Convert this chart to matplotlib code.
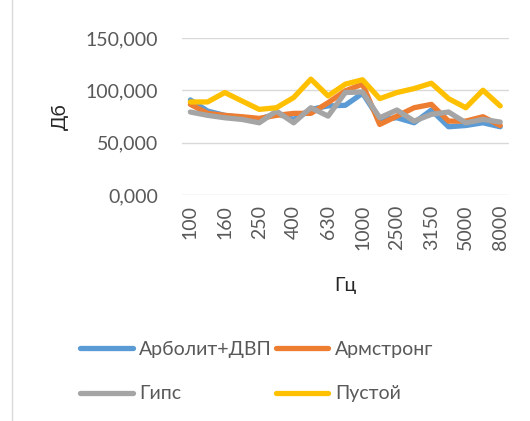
import matplotlib
matplotlib.use("Agg")
import matplotlib.pyplot as plt
from matplotlib.lines import Line2D

# частоты (подписи через одну, как в исходнике)
freq = ["100", "125", "160", "200", "250", "315", "400", "500", "630", "800",
        "1000", "2000", "2500", "2800", "3150", "4000", "5000", "6300", "8000"]

arbolit = [90.7, 80.1, 76.0, 73.7, 72.1, 77.9, 72.1, 81.7, 85.0, 85.6,
           97.1, 72.1, 73.7, 68.9, 81.1, 65.1, 66.3, 68.9, 65.1]
armstrong = [86.5, 77.9, 76.0, 74.7, 73.1, 76.0, 77.9, 77.9, 88.1, 99.4,
             105.8, 67.3, 75.3, 83.3, 86.5, 70.5, 70.5, 74.7, 66.3]
gips = [79.2, 76.0, 73.7, 72.1, 68.9, 80.1, 68.9, 83.3, 75.3, 97.8,
        98.4, 73.7, 81.1, 70.5, 76.9, 79.2, 68.9, 72.1, 69.6]
pustoy = [88.8, 88.8, 97.8, 89.7, 81.7, 83.3, 93.0, 110.6, 94.6, 105.8,
          110.0, 92.0, 97.8, 101.6, 106.7, 92.0, 83.3, 100.0, 85.0]

names = ["Арболит+ДВП", "Армстронг", "Гипс", "Пустой"]
colors = ["#5B9BD5", "#ED7D31", "#A5A5A5", "#FFC000"]

plt.rcParams['font.family'] = ['Lato', 'DejaVu Sans']
txt = "#595959"

fig = plt.figure(figsize=(5.3, 4.21), dpi=100)
ax = fig.add_axes([0.343, 0.537, 0.617, 0.373])

x = list(range(len(freq)))
lines = []
for vals, name, c in zip([arbolit, armstrong, gips, pustoy], names, colors):
    ln, = ax.plot(x, vals, color=c, lw=3.8, label=name, solid_capstyle="round")
    lines.append(ln)

ax.set_ylim(0, 150)
ax.set_xlim(-0.5, len(freq) - 0.5)
ax.set_yticks([0, 50, 100, 150])
ax.set_yticklabels([f"{v:.3f}".replace(".", ",") for v in [0, 50, 100, 150]])
ax.set_xticks(x[::2])
ax.set_xticklabels(freq[::2], rotation=90)
ax.tick_params(length=0, labelsize=14, labelcolor=txt)
ax.tick_params(axis="y", pad=17)
ax.tick_params(axis="x", pad=7)
ax.grid(axis="y", color="#D9D9D9", lw=1)
ax.set_axisbelow(True)
for s in ax.spines.values():
    s.set_visible(False)

ax.set_ylabel("Дб", fontsize=14, color="#262626", labelpad=12)
ax.set_xlabel("Гц", fontsize=14, color="#262626", labelpad=19)

# легенда по строкам: порядок как в Excel
order = [0, 2, 1, 3]
fig.legend([lines[i] for i in order], [names[i] for i in order],
           ncol=2, loc="upper left", bbox_to_anchor=(0.151, 0.19),
           frameon=False, fontsize=14, labelcolor=txt, handlelength=2.7,
           handletextpad=0.35, columnspacing=0.2, labelspacing=1.4,
           borderpad=0, borderaxespad=0)

# рамка слева
fig.add_artist(Line2D([12 / 530, 12 / 530], [0, 1], color="#D9D9D9", lw=1))

fig.savefig("out.png", dpi=100)
